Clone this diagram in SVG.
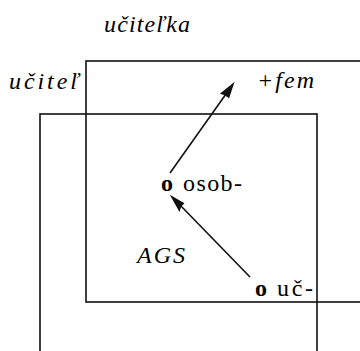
<svg xmlns="http://www.w3.org/2000/svg" width="360" height="351" viewBox="0 0 360 351">
<text x="104" y="32" font-family="Liberation Serif" font-size="24" font-style="italic" textLength="86">učiteľka</text>
<text x="9" y="89" font-family="Liberation Serif" font-size="24" font-style="italic" textLength="70">učiteľ</text>
<text x="257" y="88" font-family="Liberation Serif" font-size="24" font-style="italic" textLength="57">+fem</text>
<text x="161" y="191" font-family="Liberation Serif" font-size="24" font-weight="bold">o</text>
<text x="183" y="191" font-family="Liberation Serif" font-size="24" textLength="59">osob-</text>
<text x="137" y="263" font-family="Liberation Serif" font-size="24" font-style="italic" textLength="48">AGS</text>
<text x="255" y="296" font-family="Liberation Serif" font-size="24" font-weight="bold">o</text>
<text x="277" y="296" font-family="Liberation Serif" font-size="24" textLength="36">uč-</text>
<g id="ucitelka">
<rect x="86" y="61" width="300" height="241" fill="none" stroke="#111" stroke-width="1.6"/>
</g>
<g id="ucitel">
<rect x="40" y="114" width="277" height="260" fill="none" stroke="#111" stroke-width="1.6"/>
</g>
<g id="connectors" stroke="#111" stroke-width="1.6" fill="#111">
<line x1="170" y1="173" x2="226" y2="94"/>
<path d="M233,84 L221.5,93.4 L225.1,94.5 L228.7,97.0 Z"/>
<line x1="250" y1="277" x2="180" y2="205"/>
<path d="M172,197 L179.3,210.0 L180.5,206.2 L183.2,203.4 Z"/>
</g>
</svg>
